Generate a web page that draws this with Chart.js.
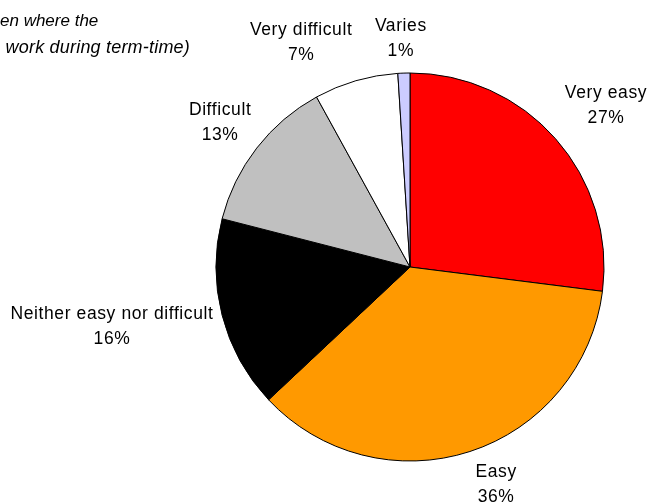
<!DOCTYPE html>
<html><head><meta charset="utf-8">
<script src="https://cdn.jsdelivr.net/npm/chart.js@4/dist/chart.umd.min.js"></script>
<style>html,body{margin:0;padding:0;background:#fff;overflow:hidden}#wrap{width:649px;height:503px;position:relative}</style>
</head><body><div id="wrap"><canvas id="c" width="649" height="503"></canvas></div>
<script>
const categories = ["Very easy", "Easy", "Neither easy nor difficult", "Difficult", "Very difficult", "Varies"];
const percentages = [27, 36, 16, 13, 7, 1];
const percentLabels = ["27%", "36%", "16%", "13%", "7%", "1%"];
const titleLines = ["en where the", "work during term-time)"];
const sliceColors = ["#FF0000", "#FF9900", "#000000", "#C0C0C0", "#FFFFFF", "#CCCCFF"];
// label block placement relative to pie centre: [degrees clockwise from 12 o'clock, distance px]
const labelPolar = [[50.6, 253.6], [158.4, 233.9], [258.7, 303.9], [307.3, 238.7], [334.1, 249.1], [357.7, 228.2]];

const FONT = '17.5px "Liberation Sans", Arial, sans-serif';
const LINE_GAP = 25;

const labelPlugin = {
  id: 'outerLabels',
  afterDraw(chart) {
    const ctx = chart.ctx;
    const arc = chart.getDatasetMeta(0).data[0];
    const cx = arc.x, cy = arc.y;
    ctx.save();
    ctx.fillStyle = '#000';
    ctx.font = FONT;
    ctx.letterSpacing = '0.6px';
    ctx.textAlign = 'center';
    ctx.textBaseline = 'middle';
    categories.forEach((cat, i) => {
      const a = labelPolar[i][0] * Math.PI / 180;
      const d = labelPolar[i][1];
      const x = cx + d * Math.sin(a);
      const y = cy - d * Math.cos(a);
      ctx.fillText(cat, x, y - LINE_GAP / 2);
      ctx.fillText(percentLabels[i], x, y + LINE_GAP / 2);
    });
    // title fragment (cut at left edge)
    ctx.textBaseline = 'alphabetic';
    ctx.font = 'italic 17px "Liberation Sans", Arial, sans-serif';
    ctx.letterSpacing = '0px';
    ctx.textAlign = 'left';
    ctx.fillText(titleLines[0], 0, 26);
    ctx.font = 'italic 18px "Liberation Sans", Arial, sans-serif';
    ctx.letterSpacing = '0.2px';
    ctx.textAlign = 'right';
    ctx.fillText(titleLines[1], 190, 53);
    ctx.restore();
  }
};

new Chart(document.getElementById('c'), {
  type: 'pie',
  data: {
    labels: categories,
    datasets: [{
      data: percentages,
      backgroundColor: sliceColors,
      borderColor: '#000000',
      borderWidth: 1,
      radius: 194
    }]
  },
  options: {
    responsive: false,
    animation: false,
    layout: { padding: { left: 216, right: 45, top: 73, bottom: 42 } },
    plugins: { legend: { display: false }, tooltip: { enabled: false }, title: { display: false } }
  },
  plugins: [labelPlugin]
});
</script>
</body></html>
